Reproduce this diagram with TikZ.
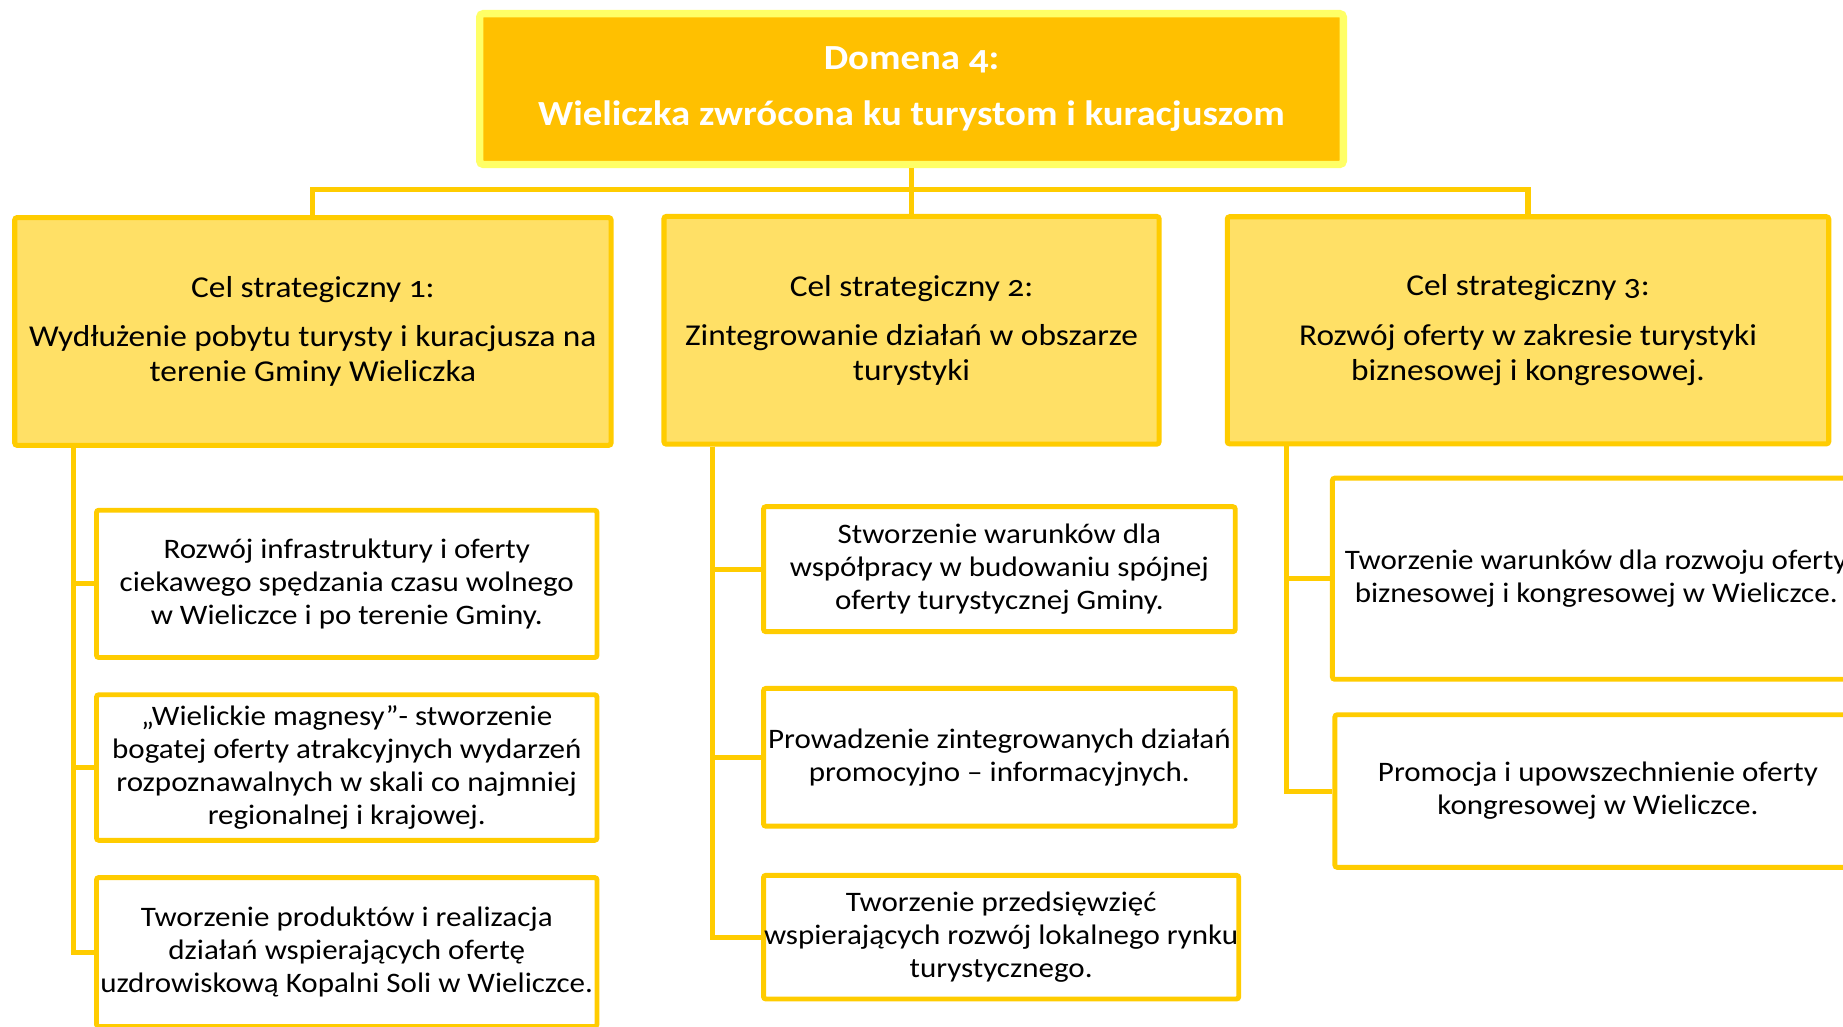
\documentclass[tikz,border=0pt]{standalone}
\usepackage{fontspec}
\setmainfont{Carlito}[Numbers=OldStyle, FakeStretch=1.1]
\definecolor{gold}{HTML}{FFC000}
\definecolor{rim}{HTML}{FFFF66}
\definecolor{goldline}{HTML}{FFCC00}
\definecolor{pale}{HTML}{FFE066}
\tikzset{
  head/.style={draw=rim, fill=gold, line width=3.1pt, rounded corners=1.5pt,
    text=white, font=\bfseries\fontsize{15}{24}\selectfont, align=center, inner sep=0pt},
  goal/.style={draw=goldline, fill=pale, line width=2.15pt, rounded corners=1pt,
    font=\fontsize{12.9}{15}\selectfont, align=center, inner sep=0pt},
  task/.style={draw=goldline, fill=white, line width=2.1pt, rounded corners=1pt,
    font=\fontsize{12}{14}\selectfont, align=center, inner sep=0pt},
  link/.style={draw=goldline, line width=2.15pt},
}
\begin{document}
\begin{tikzpicture}[x=0.5pt, y=-0.5pt]
\useasboundingbox (0,0) rectangle (1568,873);
\fill[white] (0,0) rectangle (1568,873);
\clip (0,0) rectangle (1568,873);

% domain
\node[head, minimum width=367.4pt, minimum height=64.15pt] (top) at (775.5,75.75)
  {Domena 4:\\Wieliczka zwrócona ku turystom i kuracjuszom};

% strategic goals
\node[goal, minimum width=253.65pt, minimum height=96.85pt] (l2a) at (266.2,282)
  {Cel strategiczny 1:\\[6pt]Wydłużenie pobytu turysty i kuracjusza na\\terenie Gminy Wieliczka};
\node[goal, minimum width=210.6pt, minimum height=96.85pt] (l2b) at (775.5,281)
  {Cel strategiczny 2:\\[6pt]Zintegrowanie działań w obszarze\\turystyki};
\node[goal, minimum width=255.85pt, minimum height=96.6pt] (l2c) at (1300,281)
  {Cel strategiczny 3:\\[6pt]Rozwój oferty w zakresie turystyki\\biznesowej i kongresowej.};

% operational goals, column 1
\node[task, minimum width=212.9pt, minimum height=62.65pt] (b1a) at (295,496.75)
  {Rozwój infrastruktury i oferty\\ciekawego spędzania czasu wolnego\\w Wieliczce i po terenie Gminy.};
\node[task, minimum width=212.9pt, minimum height=61.9pt] (b1b) at (295,653)
  {„Wielickie magnesy”- stworzenie\\bogatej oferty atrakcyjnych wydarzeń\\rozpoznawalnych w skali co najmniej\\regionalnej i krajowej.};
\node[task, minimum width=212.9pt, minimum height=63.4pt] (b1c) at (295,810)
  {Tworzenie produktów i realizacja\\działań wspierających ofertę\\uzdrowiskową Kopalni Soli w Wieliczce.};

% column 2
\node[task, minimum width=200.65pt, minimum height=53.15pt] (b2a) at (850.25,484.25)
  {Stworzenie warunków dla\\współpracy w budowaniu spójnej\\oferty turystycznej Gminy.};
\node[task, minimum width=200.65pt, minimum height=58.6pt] (b2b) at (850.25,644.3)
  {Prowadzenie zintegrowanych działań\\promocyjno – informacyjnych.};
\node[task, minimum width=202.15pt, minimum height=52.6pt] (b2c) at (851.75,797.3)
  {Tworzenie przedsięwzięć\\wspierających rozwój lokalnego rynku\\turystycznego.};

% column 3
\node[task, minimum width=224.4pt, minimum height=85.55pt] (b3a) at (1358,492.35)
  {Tworzenie warunków dla rozwoju oferty\\biznesowej i kongresowej w Wieliczce.};
\node[task, minimum width=223.8pt, minimum height=64.9pt] (b3b) at (1359.5,673)
  {Promocja i upowszechnienie oferty\\kongresowej w Wieliczce.};

% tree connectors
\coordinate (hub) at (775.5,161);
\draw[link] (top.south) -- (hub) -- (l2b.north);
\draw[link] (l2a.north) |- (hub) -| (l2c.north);

\draw[link] ([xshift=26.05pt]l2a.south west) |- (b1a.west);
\draw[link] ([xshift=26.05pt]l2a.south west) |- (b1b.west);
\draw[link] ([xshift=26.05pt]l2a.south west) |- (b1c.west);

\draw[link] ([xshift=21.75pt]l2b.south west) |- (b2a.west);
\draw[link] ([xshift=21.75pt]l2b.south west) |- (b2b.west);
\draw[link] ([xshift=21.75pt]l2b.south west) |- (b2c.west);

\draw[link] ([xshift=26.4pt]l2c.south west) |- (b3a.west);
\draw[link] ([xshift=26.4pt]l2c.south west) |- (b3b.west);
\end{tikzpicture}
\end{document}
